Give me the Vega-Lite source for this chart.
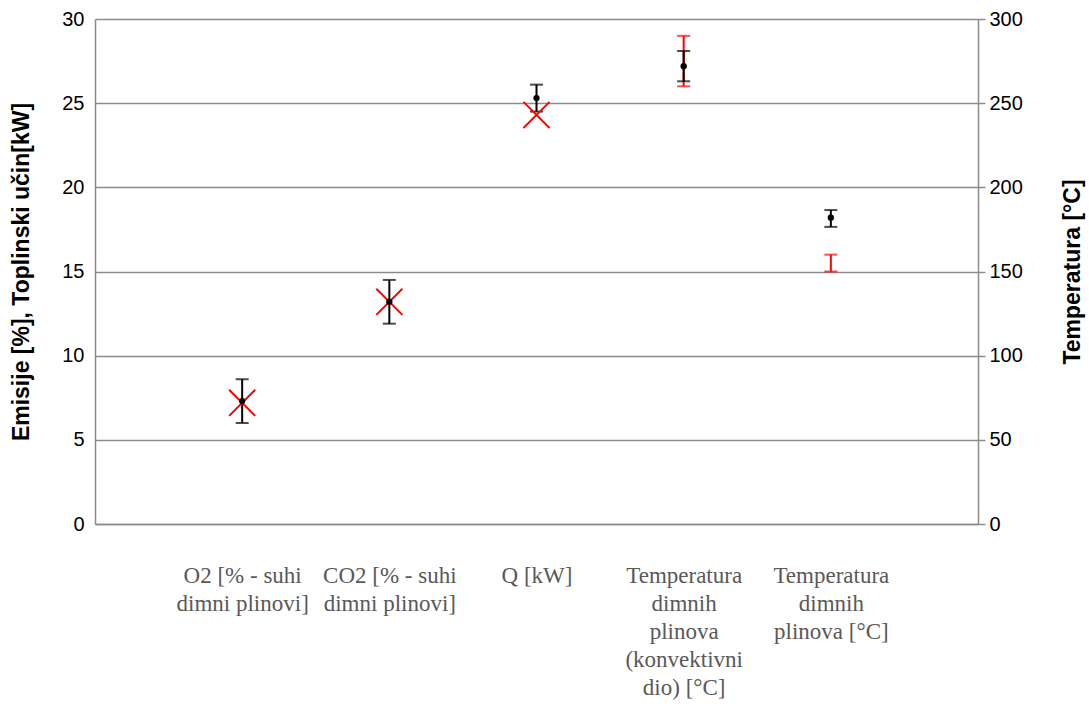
{
  "$schema": "https://vega.github.io/schema/vega-lite/v6.json",
  "width": 883,
  "height": 505,
  "autosize": {"type": "none"},
  "padding": {"left": 95, "top": 19, "right": 111, "bottom": 183},
  "background": "white",
  "config": {
    "view": {"stroke": null},
    "axis": {"labelFont": "Liberation Sans", "titleFont": "Liberation Sans"}
  },
  "datasets": {
    "d": [
      {"cat": "O2 [% - suhi|dimni plinovi]", "side": "L", "mean": 7.3, "lo": 6.0, "hi": 8.6, "ref": 7.2},
      {"cat": "CO2 [% - suhi|dimni plinovi]", "side": "L", "mean": 13.2, "lo": 11.9, "hi": 14.5, "ref": 13.2},
      {"cat": "Q [kW]", "side": "L", "mean": 25.3, "lo": 24.5, "hi": 26.1, "ref": 24.3},
      {"cat": "Temperatura|dimnih|plinova|(konvektivni|dio) [°C]", "side": "R", "mean": 272, "lo": 263, "hi": 281, "rlo": 260, "rhi": 290},
      {"cat": "Temperatura|dimnih|plinova [°C]", "side": "R", "mean": 182, "lo": 176.5, "hi": 186.5, "rlo": 150, "rhi": 160}
    ]
  },
  "data": {"name": "d"},
  "encoding": {
    "x": {
      "field": "cat",
      "type": "nominal",
      "sort": null,
      "scale": {
        "type": "point",
        "padding": 1,
        "domain": [
          "O2 [% - suhi|dimni plinovi]",
          "CO2 [% - suhi|dimni plinovi]",
          "Q [kW]",
          "Temperatura|dimnih|plinova|(konvektivni|dio) [°C]",
          "Temperatura|dimnih|plinova [°C]"
        ]
      },
      "axis": {
        "title": null,
        "labelExpr": "split(datum.label, '|')",
        "labelAngle": 0,
        "labelFont": "Liberation Serif",
        "labelFontSize": 23,
        "labelLineHeight": 28,
        "labelColor": "#595959",
        "labelBaseline": "top",
        "labelPadding": 40,
        "labelLimit": 300,
        "ticks": false,
        "domainColor": "#8c8c8c",
        "domainWidth": 1.5,
        "grid": false
      }
    }
  },
  "layer": [
    {
      "transform": [{"filter": "datum.side == 'L'"}],
      "layer": [
        {
          "mark": {"type": "rule", "color": "black", "strokeWidth": 2},
          "encoding": {
            "y": {
              "field": "lo", "type": "quantitative",
              "scale": {"domain": [0, 30]},
              "title": "Emisije [%], Toplinski učin[kW]",
              "axis": {
                "orient": "left",
                "values": [0, 5, 10, 15, 20, 25, 30],
                "grid": true,
                "gridColor": "#8c8c8c",
                "gridWidth": 1.5,
                "domainColor": "#8c8c8c",
                "domainWidth": 1.5,
                "ticks": false,
                "labelFontSize": 20,
                "labelColor": "black",
                "labelPadding": 11,
                "titleFontSize": 23,
                "titleFontWeight": "bold",
                "titleColor": "black",
                "titlePadding": 28
              }
            },
            "y2": {"field": "hi"}
          }
        },
        {
          "mark": {"type": "tick", "color": "black", "size": 13, "thickness": 2},
          "encoding": {"y": {"field": "lo", "type": "quantitative", "title": "Emisije [%], Toplinski učin[kW]"}}
        },
        {
          "mark": {"type": "tick", "color": "black", "size": 13, "thickness": 2},
          "encoding": {"y": {"field": "hi", "type": "quantitative", "title": "Emisije [%], Toplinski učin[kW]"}}
        },
        {
          "mark": {"type": "point", "shape": "M-1,-1L1,1M-1,1L1,-1", "size": 680, "filled": false, "color": "#ff0000", "strokeWidth": 2, "opacity": 1},
          "encoding": {"y": {"field": "ref", "type": "quantitative", "title": "Emisije [%], Toplinski učin[kW]"}}
        },
        {
          "mark": {"type": "point", "shape": "circle", "size": 40, "filled": true, "color": "black", "opacity": 1},
          "encoding": {"y": {"field": "mean", "type": "quantitative", "title": "Emisije [%], Toplinski učin[kW]"}}
        }
      ]
    },
    {
      "transform": [{"filter": "datum.side == 'R'"}],
      "layer": [
        {
          "mark": {"type": "rule", "color": "#ff0000", "strokeWidth": 2},
          "encoding": {
            "y": {
              "field": "rlo", "type": "quantitative",
              "scale": {"domain": [0, 300]},
              "title": "Temperatura [°C]",
              "axis": {
                "orient": "right",
                "values": [0, 50, 100, 150, 200, 250, 300],
                "grid": false,
                "domainColor": "#8c8c8c",
                "domainWidth": 1.5,
                "ticks": true,
                "tickColor": "#8c8c8c",
                "tickWidth": 1.5,
                "tickSize": 7,
                "labelFontSize": 20,
                "labelColor": "black",
                "labelPadding": 4,
                "titleFontSize": 23,
                "titleFontWeight": "bold",
                "titleColor": "black",
                "titleAngle": 270,
                "titlePadding": 62
              }
            },
            "y2": {"field": "rhi"}
          }
        },
        {
          "mark": {"type": "tick", "color": "#ff0000", "size": 13, "thickness": 2},
          "encoding": {"y": {"field": "rlo", "type": "quantitative", "title": "Temperatura [°C]"}}
        },
        {
          "mark": {"type": "tick", "color": "#ff0000", "size": 13, "thickness": 2},
          "encoding": {"y": {"field": "rhi", "type": "quantitative", "title": "Temperatura [°C]"}}
        },
        {
          "mark": {"type": "rule", "color": "black", "strokeWidth": 2},
          "encoding": {"y": {"field": "lo", "type": "quantitative", "title": "Temperatura [°C]"}, "y2": {"field": "hi"}}
        },
        {
          "mark": {"type": "tick", "color": "black", "size": 13, "thickness": 2},
          "encoding": {"y": {"field": "lo", "type": "quantitative", "title": "Temperatura [°C]"}}
        },
        {
          "mark": {"type": "tick", "color": "black", "size": 13, "thickness": 2},
          "encoding": {"y": {"field": "hi", "type": "quantitative", "title": "Temperatura [°C]"}}
        },
        {
          "mark": {"type": "point", "shape": "circle", "size": 40, "filled": true, "color": "black", "opacity": 1},
          "encoding": {"y": {"field": "mean", "type": "quantitative", "title": "Temperatura [°C]"}}
        }
      ]
    }
  ],
  "resolve": {"scale": {"y": "independent"}, "axis": {"y": "independent"}}
}
